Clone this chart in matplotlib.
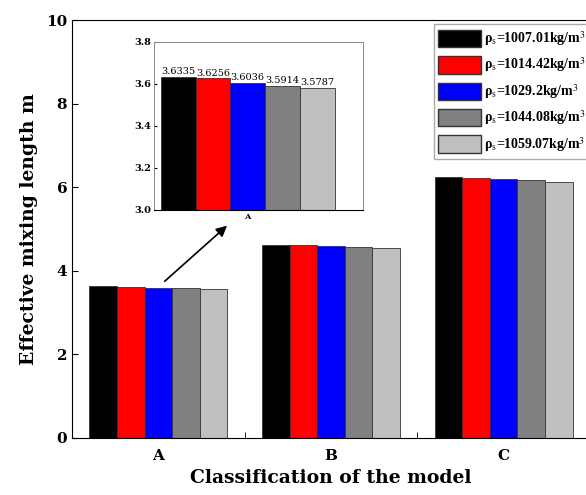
import numpy as np
import matplotlib.pyplot as plt
from matplotlib.patches import Patch

# ── Données ───────────────────────────────────────────────────────────────────
models    = ["A", "B", "C"]
densities = ["1007.01", "1014.42", "1029.2", "1044.08", "1059.07"]
values_A  = [3.6335, 3.6256, 3.6036, 3.5914, 3.5787]
values_B  = [4.63, 4.62, 4.60, 4.58, 4.56]
values_C  = [6.24, 6.22, 6.20, 6.18, 6.14]
colors    = ["#000000", "#ff0000", "#0000ff", "#808080", "#c0c0c0"]

plt.rcParams["font.family"] = "DejaVu Serif"
plt.rcParams["mathtext.fontset"] = "stix"

data = np.array([values_A, values_B, values_C])
x = np.arange(len(models))
width = 0.16

fig = plt.figure(figsize=(5.86, 4.95), dpi=100)
ax = fig.add_axes([0.1229, 0.1152, 0.8839, 0.8434])

for i in range(len(densities)):
    ax.bar(x - 0.4 + width * (i + 0.5), data[:, i], width, color=colors[i],
           edgecolor="#333333", linewidth=0.6)

ax.set_xlim(-0.5, 2.5)
ax.set_ylim(0, 10)
ax.set_xticks(x)
ax.set_xticklabels(models, fontweight="bold", fontsize=11)
ax.set_xticks([0.5, 1.5], minor=True)
ax.set_yticks([0, 2, 4, 6, 8, 10])
ax.set_yticklabels(["0", "2", "4", "6", "8", "10"], fontweight="bold", fontsize=11)
ax.tick_params(axis="both", which="both", direction="in", length=4)
ax.tick_params(axis="x", which="major", length=0, pad=8)
ax.set_xlabel("Classification of the model", fontsize=13.5, fontweight="bold")
ax.set_ylabel("Effective mixing length m", fontsize=13.5, fontweight="bold", labelpad=6)

# flèche vers l'encart
ax.annotate("", xy=(0.41, 5.13), xytext=(0.025, 3.71),
            arrowprops=dict(arrowstyle="-|>", color="black", lw=1.2,
                            mutation_scale=16))

# ── Encart : zoom sur A ───────────────────────────────────────────────────────
axin = fig.add_axes([0.2633, 0.5758, 0.3557, 0.34])
for i in range(len(densities)):
    axin.bar(-0.4 + width * (i + 0.5), values_A[i], width, color=colors[i],
             edgecolor="#333333", linewidth=0.6)
    axin.text(-0.4 + width * (i + 0.5), values_A[i] + 0.004, f"{values_A[i]:.4f}",
              ha="center", va="bottom", fontsize=7)
axin.set_xlim(-0.43, 0.53)
axin.set_ylim(3.0, 3.8)
axin.set_xticks([0])
axin.set_xticklabels(["A"], fontweight="bold", fontsize=6)
axin.set_yticks([3.0, 3.2, 3.4, 3.6, 3.8])
axin.set_yticklabels(["3.0", "3.2", "3.4", "3.6", "3.8"], fontweight="bold", fontsize=7)
axin.tick_params(axis="both", direction="in", length=2, pad=2)
axin.tick_params(axis="x", length=0)
for side in ["top", "right", "left"]:
    axin.spines[side].set_color("#888888")
    axin.spines[side].set_linewidth(0.7)

# ── Légende ───────────────────────────────────────────────────────────────────
handles = [Patch(facecolor=c, edgecolor="#333333") for c in colors]
labels = ["ρ" + r"$_\mathrm{s}$=" + d + r"kg/m$^3$" for d in densities]
leg = fig.legend(handles, labels, loc="upper left", bbox_to_anchor=(0.728, 0.965),
                 prop={"family": "Liberation Serif", "size": 10, "weight": "bold"},
                 handlelength=3.1, handleheight=1.55, labelspacing=0.55,
                 handletextpad=0.15, borderpad=0.35, fancybox=False, framealpha=1)
leg.get_frame().set_edgecolor("#aaaaaa")

plt.savefig("out.png", dpi=100)
